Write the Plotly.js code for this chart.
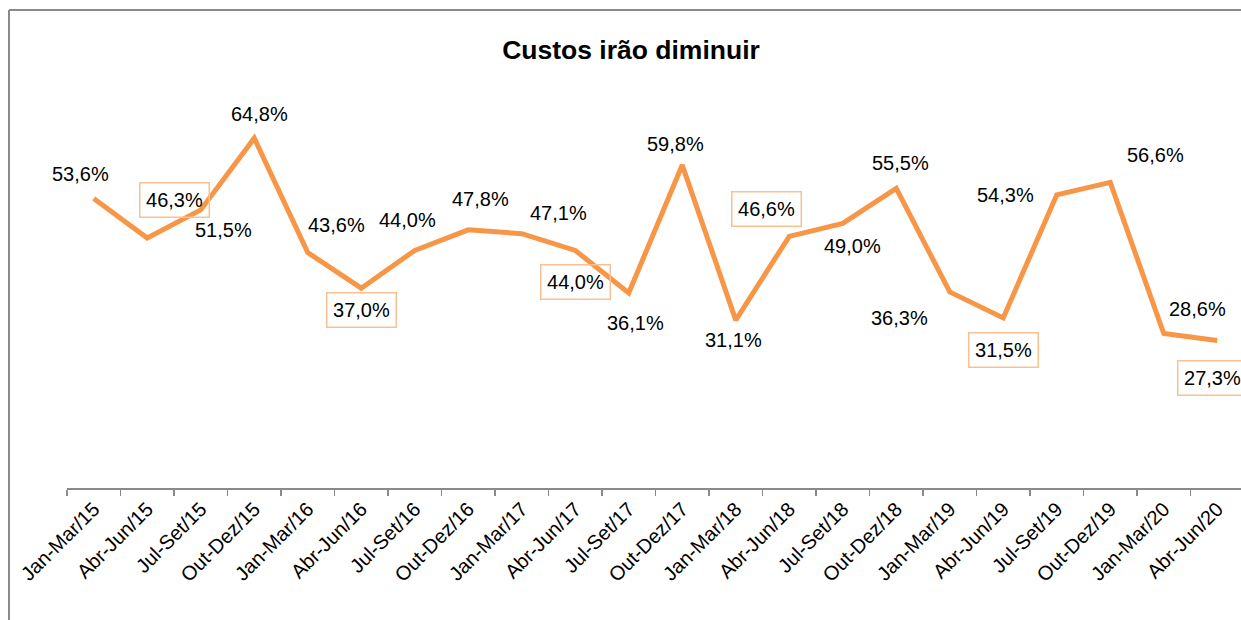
<!DOCTYPE html>
<html>
<head>
<meta charset="utf-8">
<script src="https://cdn.plot.ly/plotly-3.0.1.min.js"></script>
<style>
  html, body { margin: 0; padding: 0; background: #ffffff; overflow: hidden; }
  #chart { width: 1241px; height: 620px; }
</style>
</head>
<body>
<div id="chart"></div>
<script>
// ---- data ----
const categories = [
  "Jan-Mar/15", "Abr-Jun/15", "Jul-Set/15", "Out-Dez/15",
  "Jan-Mar/16", "Abr-Jun/16", "Jul-Set/16", "Out-Dez/16",
  "Jan-Mar/17", "Abr-Jun/17", "Jul-Set/17", "Out-Dez/17",
  "Jan-Mar/18", "Abr-Jun/18", "Jul-Set/18", "Out-Dez/18",
  "Jan-Mar/19", "Abr-Jun/19", "Jul-Set/19", "Out-Dez/19",
  "Jan-Mar/20", "Abr-Jun/20"
];
const values = [
  53.6, 46.3, 51.5, 64.8,
  43.6, 37.0, 44.0, 47.8,
  47.1, 44.0, 36.1, 59.8,
  31.1, 46.6, 49.0, 55.5,
  36.3, 31.5, 54.3, 56.6,
  28.6, 27.3
];
const chartTitle = "Custos irão diminuir";

// ---- label styling (offsets in px from the point, boxed flag) ----
const labelDx = [-13, 27, 23, 5, 29, 0, -7, 12, 37, 0, 7, -7, -2, -23, 10, 4, -50, 0, -51, 45, 34, -5];
const labelDy = [-25, -38, 20, -24, -28, 22, -30, -31, -21, 32, 30, -21, 20, -27, 23, -25, 26, 32, 0, -27, -25, 37];
const labelBoxed = [false, true, false, false, false, true, false, false, false, true, false, false,
                    false, true, false, false, false, true, false, false, false, true];

const FONT = '"Liberation Sans Narrow", "Arial Narrow", "Liberation Sans", Arial, sans-serif';
const W = 1241, H = 620;
const M = { l: 67, r: 0, t: 110, b: 132 };
const plotW = W - M.l - M.r, plotH = H - M.t - M.b;
const px2x = px => (px - M.l) / plotW;
const py2y = py => (H - M.b - py) / plotH;

const fmt = v => v.toFixed(1).replace('.', ',') + '%';

const trace = {
  type: 'scatter',
  mode: 'lines',
  x: categories,
  y: values,
  line: { color: '#F79646', width: 5, shape: 'linear' },
  hoverinfo: 'skip',
  cliponaxis: false
};

const annotations = values.map((v, i) => {
  const a = {
    x: categories[i], y: v, xref: 'x', yref: 'y',
    text: fmt(v), showarrow: false,
    xanchor: 'center', yanchor: 'middle',
    xshift: labelDx[i], yshift: -labelDy[i],
    font: { family: FONT, size: 20, color: '#000000' }
  };
  if (labelBoxed[i]) {
    a.bordercolor = '#FAC090';
    a.borderwidth = 1.5;
    a.borderpad = 2;
    a.width = 64;
    a.height = 29;
  }
  return a;
});

const shapes = [
  { type: 'line', xref: 'paper', yref: 'paper', x0: px2x(9), x1: px2x(9), y0: py2y(10), y1: py2y(630),
    line: { color: '#8a8a8a', width: 2 } },
  { type: 'line', xref: 'paper', yref: 'paper', x0: px2x(9), x1: px2x(1260), y0: py2y(10), y1: py2y(10),
    line: { color: '#8a8a8a', width: 2 } }
];

const layout = {
  width: W, height: H,
  margin: M,
  paper_bgcolor: '#ffffff',
  plot_bgcolor: '#ffffff',
  showlegend: false,
  title: {
    text: '<b>' + chartTitle + '</b>',
    font: { family: FONT, size: 26.5, color: '#000000' },
    xref: 'container', yref: 'container',
    x: 631 / W, y: 1 - 50 / H, xanchor: 'center', yanchor: 'middle'
  },
  xaxis: {
    type: 'category',
    range: [-0.5, -0.5 + plotW / 53.5],
    tickson: 'boundaries',
    ticks: 'outside', ticklen: 6, tickwidth: 1.5, tickcolor: '#8a8a8a',
    showline: true, linecolor: '#8a8a8a', linewidth: 1.5,
    showgrid: false, zeroline: false,
    tickangle: -45,
    tickfont: { family: FONT, size: 20, color: '#000000' },
    automargin: false, fixedrange: true
  },
  yaxis: {
    range: [0, 70],
    showgrid: false, zeroline: false, showline: false,
    showticklabels: false, ticks: '',
    automargin: false, fixedrange: true
  },
  annotations: annotations,
  shapes: shapes
};

Plotly.newPlot('chart', [trace], layout, { displayModeBar: false, staticPlot: true });
</script>
</body>
</html>
